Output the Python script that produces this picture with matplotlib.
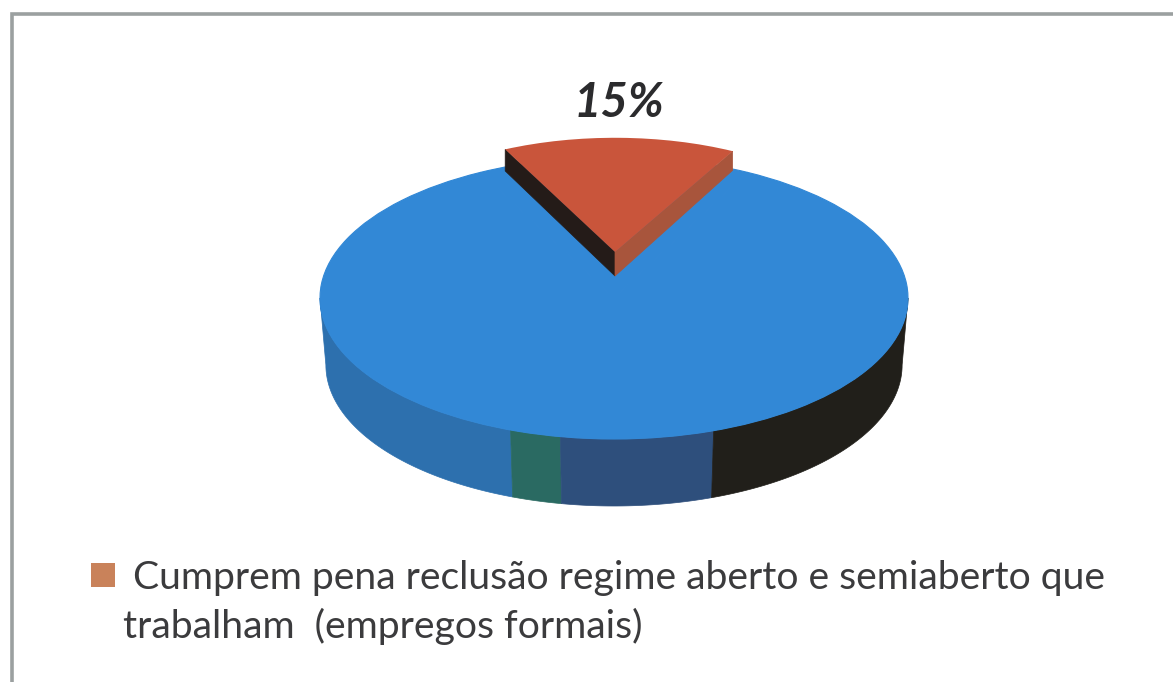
import numpy as np
import matplotlib
matplotlib.use("Agg")
import matplotlib.pyplot as plt
from matplotlib.patches import Patch, Polygon, Rectangle
from matplotlib.transforms import Affine2D

# ---- data ----
categories = ["Demais", "Cumprem pena reclusão regime aberto e semiaberto que\ntrabalham  (empregos formais)"]
values = [85, 15]
shown_label = "15%"
wall_angles = [180, 249.4, 259.5, 289.8, 360]
wall_colors = ["#2d70ae", "#2a6a62", "#2e4f7c", "#211f1a"]

BLUE = "#3288d6"
RED = "#c9553b"
RED_RIGHT = "#a8553c"
RED_LEFT = "#241b18"
LEGEND = "#c9825a"
TEXT = "#3b3b3d"
W, H = 1173, 682

# geometry in pixels: disc centre and semi-axes
cx, cy, rx, ry = 614.0, 298.0, 294.0, 141.0
depth = 67.0 / ry
bottom_scale = 0.98
red_radius = 0.81
red_lift = (cy - 252.0) / ry
red_depth = 24.0 / ry
red_xscale = 1.052
red_turn = 1.0

fig = plt.figure(figsize=(W / 100, H / 100), dpi=100, facecolor="white")
ax = fig.add_axes([0, 0, 1, 1])

# frame (open towards the right and bottom edges of the scan)
fig.add_artist(Rectangle((11.5 / W, -0.05), 1.1, 1.05 - 13.5 / H, transform=fig.transFigure,
                         fill=False, edgecolor="#9ba0a0", linewidth=2.6))

# main disc: top surface is a full ellipse
disc, _ = ax.pie(values, colors=[BLUE, BLUE], radius=1.0, center=(0, 0),
                 startangle=90 - 360 * values[1] / sum(values) / 2 - 360 * values[0] / sum(values))
for w in disc:
    w.set_zorder(3)
    w.set_linewidth(0.8)
    w.set_edgecolor(BLUE)

# side wall
for a0, a1, col in zip(wall_angles[:-1], wall_angles[1:], wall_colors):
    t = np.radians(np.linspace(a0, a1, 80))
    top = np.c_[np.cos(t), np.sin(t)]
    bot = np.c_[bottom_scale * np.cos(t), np.sin(t) - depth][::-1]
    ax.add_patch(Polygon(np.r_[top, bot], closed=True, facecolor=col, edgecolor=col, lw=0.5, zorder=2))

# exploded slice
half_deg = 180.0 * values[1] / sum(values)
apex = np.array([(615.0 - cx) / rx, red_lift])
a_left = np.radians(90 + half_deg - red_turn)
a_right = np.radians(90 - half_deg - red_turn)
left = apex + red_radius * np.array([red_xscale * np.cos(a_left), np.sin(a_left)])
right = apex + red_radius * np.array([red_xscale * np.cos(a_right), np.sin(a_right)])
down = np.array([0.0, -red_depth])
ax.add_patch(Polygon([left, apex, apex + down, left + down * 0.9], closed=True,
                     facecolor=RED_LEFT, edgecolor=RED_LEFT, lw=0.5, zorder=4))
ax.add_patch(Polygon([right, apex, apex + down, right + down * 0.8], closed=True,
                     facecolor=RED_RIGHT, edgecolor=RED_RIGHT, lw=0.5, zorder=4))
slice_w, _ = ax.pie(values[::-1], colors=[RED, "none"], radius=red_radius, center=tuple(apex),
                    startangle=90 - half_deg - red_turn)
slice_w[0].set_zorder(5)
slice_w[0].set_transform(Affine2D().translate(-apex[0], 0).scale(red_xscale, 1).translate(apex[0], 0) + ax.transData)
slice_w[1].set_visible(False)

ax.set_aspect("auto")
ax.set_xlim((0 - cx) / rx, (W - cx) / rx)
ax.set_ylim((cy - H) / ry, cy / ry)
ax.axis("off")

# value label
ax.text((618.5 - cx) / rx, (cy - 103) / ry, shown_label, ha="center", va="center",
        fontfamily="Lato", fontweight="bold", fontstyle="italic", fontsize=34, color="#2b2b2d", zorder=6)

# legend
leg = fig.legend(handles=[Patch(facecolor=LEGEND, edgecolor="none")],
                 labels=[" " + categories[1]],
                 loc="upper left", bbox_to_anchor=(91 / W, 1 - 560 / H), frameon=False,
                 prop={"family": "Lato", "size": 28.15}, labelcolor=TEXT,
                 handlelength=0.62, handleheight=0.56, handletextpad=0.2, borderpad=0, borderaxespad=0)
for t in leg.get_texts():
    t.set_linespacing(1.4)
h = leg.legend_handles[0]
h.set_y(h.get_y() + 20.5)

fig.savefig("out.png", dpi=100, facecolor="white")
